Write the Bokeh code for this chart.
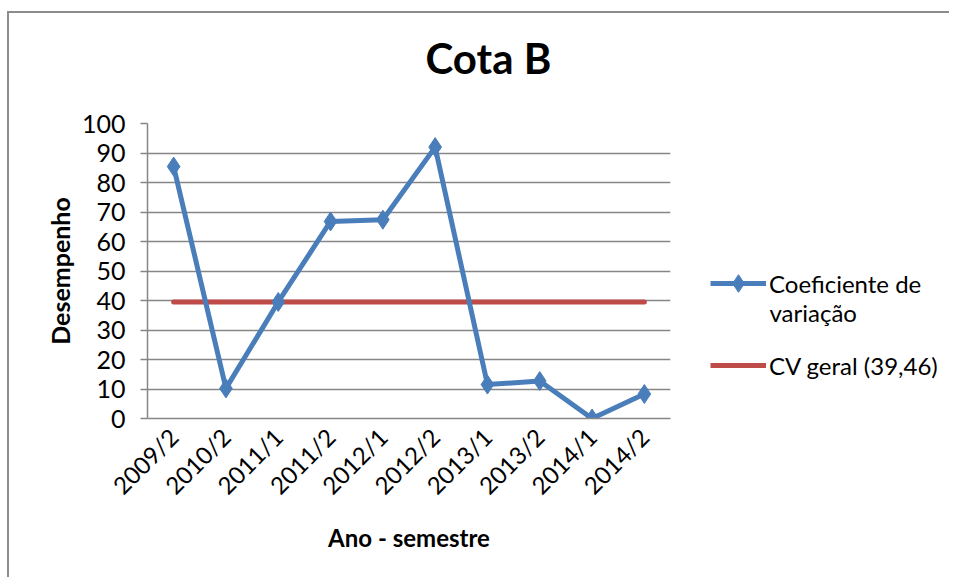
from bokeh.plotting import figure
from bokeh.layouts import row
from bokeh.models import FactorRange, Range1d, Legend, LegendItem, SingleIntervalTicker, Label, Title
from bokeh.embed import file_html
from bokeh.resources import INLINE
import math

semestres = ["2009/2", "2010/2", "2011/1", "2011/2", "2012/1", "2012/2", "2013/1", "2013/2", "2014/1", "2014/2"]
coef_variacao = [85.4, 10.2, 39.5, 66.8, 67.4, 92.0, 11.5, 12.7, 0.0, 8.3]
cv_geral = [39.46, 39.46, 39.46, 39.46, 39.46, 39.46, 39.46, 39.46, 39.46, 39.46]

FONT = "Lato"
GRID = "#868686"
BLUE = "#4A7EBB"
RED = "#BE4B48"

x_range = FactorRange(*semestres, range_padding=0)

p = figure(width=680, height=564, output_backend="svg", toolbar_location=None, title=None,
           x_range=x_range, y_range=Range1d(0, 100),
           min_border_left=138, min_border_right=19, min_border_top=110, min_border_bottom=159)

# spacer panel between the title and the plot area, then the title itself
p.add_layout(Title(text=" ", text_font_size="1px", standoff=33), "above")
p.add_layout(Title(text="Cota B", text_font=FONT, text_font_size="42px", text_font_style="bold",
                   text_color="black", align="left", offset=278, standoff=10), "above")

p.outline_line_color = None
p.xgrid.grid_line_color = None
p.ygrid.grid_line_color = GRID
p.ygrid.grid_line_width = 1.5

p.yaxis.ticker = SingleIntervalTicker(interval=10)
p.yaxis.axis_line_color = GRID
p.yaxis.axis_line_width = 1.5
p.yaxis.major_tick_line_color = GRID
p.yaxis.major_tick_line_width = 1.5
p.yaxis.major_tick_out = 7
p.yaxis.major_tick_in = 0
p.yaxis.minor_tick_line_color = None
p.yaxis.major_label_text_font = FONT
p.yaxis.major_label_text_font_size = "25px"
p.yaxis.major_label_text_color = "black"
p.yaxis.major_label_standoff = 15
p.yaxis.axis_label = "Desempenho"
p.yaxis.axis_label_text_font = FONT
p.yaxis.axis_label_text_font_size = "25px"
p.yaxis.axis_label_text_font_style = "bold"
p.yaxis.axis_label_text_color = "black"
p.yaxis.axis_label_standoff = 4

p.xaxis.axis_line_color = GRID
p.xaxis.axis_line_width = 1.5
p.xaxis.major_tick_line_color = None
p.xaxis.minor_tick_line_color = None
p.xaxis.major_label_orientation = math.pi / 4
p.xaxis.major_label_text_font = FONT
p.xaxis.major_label_text_font_size = "24px"
p.xaxis.major_label_text_color = "black"
p.xaxis.major_label_standoff = 8
p.xaxis.axis_label = "Ano - semestre"
p.xaxis.axis_label_text_font = FONT
p.xaxis.axis_label_text_font_size = "24px"
p.xaxis.axis_label_text_font_style = "bold"
p.xaxis.axis_label_text_color = "black"
p.xaxis.axis_label_standoff = 10

p.line(semestres, cv_geral, line_color=RED, line_width=5, line_cap="round")
p.line(semestres, coef_variacao, line_color=BLUE, line_width=5)
p.scatter(semestres, coef_variacao, marker="diamond", size=19, fill_color=BLUE, line_color=BLUE)

# legend panel to the right of the plot area (series drawn out of view, only keys show)
lg = figure(width=260, height=564, output_backend="svg", toolbar_location=None,
            x_axis_type=None, y_axis_type=None, min_border=0,
            x_range=x_range, y_range=Range1d(-300, -200))
lg.outline_line_color = None
lg.xgrid.grid_line_color = None
lg.ygrid.grid_line_color = None
k_red = lg.line(semestres, cv_geral, line_color=RED, line_width=5)
k_blue = lg.line(semestres, coef_variacao, line_color=BLUE, line_width=5)
k_mark = lg.scatter(semestres, coef_variacao, marker="diamond", fill_color=BLUE, line_color=BLUE)


def style_legend(leg):
    leg.label_text_font = FONT
    leg.label_text_font_size = "24px"
    leg.label_text_color = "black"
    leg.glyph_width = 56
    leg.glyph_height = 44
    leg.label_standoff = 3
    leg.border_line_color = None
    leg.background_fill_alpha = 0
    leg.padding = 0
    leg.margin = 0


leg_a = Legend(items=[LegendItem(label="Coeficiente de", renderers=[k_blue, k_mark])], location=(21, 113))
leg_b = Legend(items=[LegendItem(label="CV geral (39,46)", renderers=[k_red])], location=(21, 31))
style_legend(leg_a)
style_legend(leg_b)
lg.add_layout(leg_a, "center")
lg.add_layout(leg_b, "center")
lg.add_layout(Label(x=80, y=106, x_units="screen", y_units="screen", text="variação",
                    text_font=FONT, text_font_size="24px", text_color="black",
                    text_baseline="middle", text_align="left"))

layout = row(p, lg, spacing=0)
layout.styles = {"border-left": "2px solid #8c8c8c", "border-top": "2px solid #8c8c8c",
                 "margin-left": "7px", "margin-top": "11px"}

open("out.html", "w").write(file_html(layout, INLINE))
